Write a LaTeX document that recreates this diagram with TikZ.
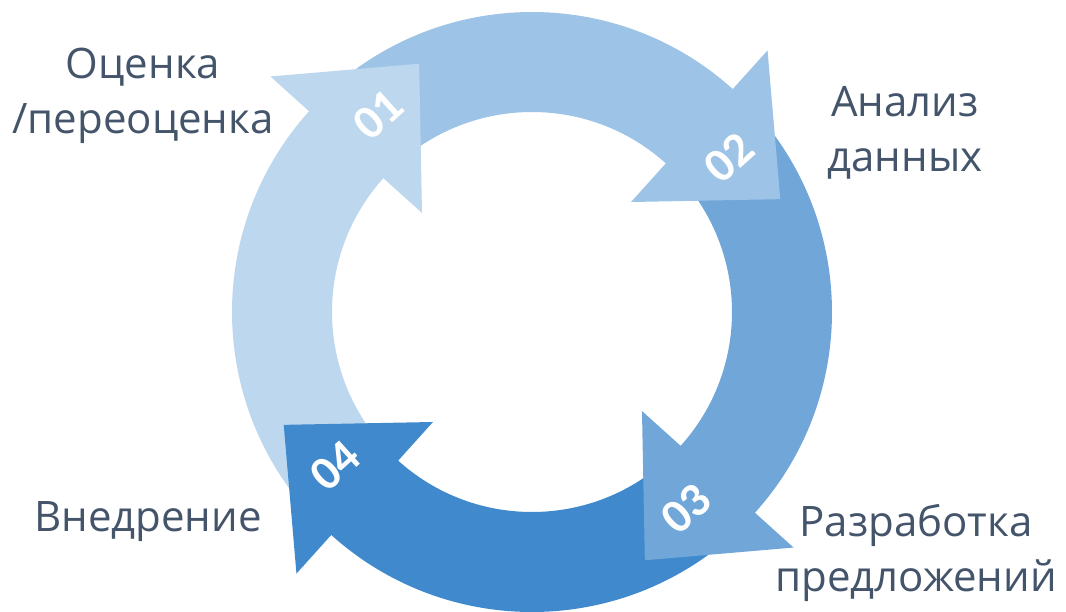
\documentclass[tikz,border=0pt]{standalone}
\usepackage{fontspec}
\setmainfont{Open Sans}
\newfontfamily\numfont{Carlito}
\usetikzlibrary{positioning}
\definecolor{sa}{HTML}{BDD7EE}
\definecolor{sb}{HTML}{9DC3E6}
\definecolor{sc}{HTML}{71A6D9}
\definecolor{sd}{HTML}{3F89CC}
\definecolor{txt}{HTML}{44546A}
\newcommand{\ringpart}[1]{\fill[#1] (226:300) arc[start angle=226,end angle=137,radius=300] -- (137:200) arc[start angle=137,end angle=226,radius=200] -- cycle;}
\newcommand{\ringhead}[1]{\begin{scope}[shift={(138:250)},rotate=48] \fill[#1] (0,-102) -- (109,0) -- (0,102) -- cycle; \end{scope}}

\begin{document}
\begin{tikzpicture}[x=0.75pt,y=0.75pt,
  lbl/.style={text=txt,font=\fontsize{31.5}{41}\selectfont,align=center},
  num/.style={text=white,font=\numfont\fontsize{36}{36}\selectfont\bfseries,rotate=42}]
  \useasboundingbox (-532,-299) rectangle (534,312);
  \foreach \k/\c in {0/sa,1/sb,2/sc,3/sd} {\begin{scope}[rotate=-90*\k] \ringpart{\c} \end{scope}}
  \foreach \k/\c in {0/sa,1/sb,2/sc,3/sd} {\begin{scope}[rotate=-90*\k] \ringhead{\c} \end{scope}}
  \foreach \k/\n in {0/01,1/02,2/03,3/04} \node[num] (n\n) at (128-90*\k:250) {\n};
  \node[lbl] (eval) at (-389,216) {Оценка\\/переоценка};
  \node[lbl] (anal) at (373,179) {Анализ\\данных};
  \node[lbl] (impl) at (-384,-210) {Внедрение};
  \node[lbl] (prop) at (384,-241) {Разработка\\предложений};
\end{tikzpicture}
\end{document}
